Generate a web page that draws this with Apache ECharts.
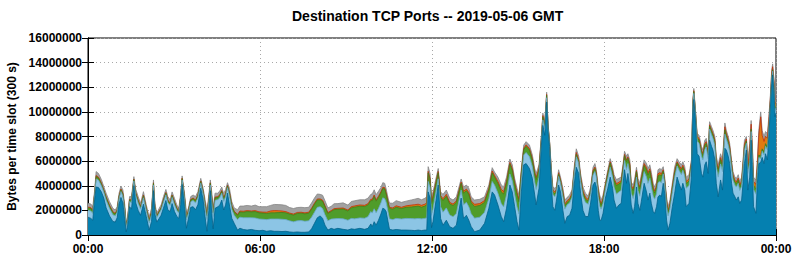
<!DOCTYPE html>
<html><head><meta charset="utf-8">
<script src="https://cdn.jsdelivr.net/npm/echarts@6/dist/echarts.min.js"></script>
<style>html,body{margin:0;padding:0;background:#fff}#c{width:795px;height:260px}</style>
</head><body><div id="c"></div>
<script>
// time of each sample, minutes after 00:00 GMT
const minutes = [
0,6,10,14,17,22,28,33,38,45, 52,57,61,65,69,73,77,80,83,87, 91,96,100,105,110,116,122,128,133,137,
140,144,149,153,158,163,167,172,176,181, 186,190,194,197,202,206,210,215,220,225, 230,236,241,245,249,253,256,259,262,266,
272,276,280,284,288,292,296,301,306,313,
318,325,333,342,350,358,366,374,382,390, 398,406,414,422,430,438,446,454,462,468,
474,480,486,491,496,502,509,515,523,534, 544,551,558,569,579,586,592,595,599,603,
608,613,617,621,624,628,631,638,645,656, 666,677,684,691,698,705,709,712,716,719,
722,733,738,743,750,757,764,771,781,786, 792,797,802,809,820,830,839,846,851,858,
865,870,876,883,888,893,898,902,907,912, 917,924,930,935,938,944,949,952,956,960,
963,966,970,973,977,980,985,989,994,998, 1003,1008,1013,1017,1022,1027,1031,1036,1041,1047,
1052,1057,1061,1064,1068,1071,1074,1078,1083,1088, 1093,1098,1101,1106,1111,1116,1120,1123,1127,1130,
1134,1137,1141,1144,1148,1151,1155,1158,1164,1169, 1172,1176,1179,1183,1186,1190,1193,1197,1200,
1204,1207,1211,1214,1218,1223,1228,1233,1237,1242, 1245,1249,1252,1258,1263,1266,1268,1271,1275,1279,
1284,1287,1291,1294,1298,1301,1305,1308,1312,1315, 1319,1324,1328,1333,1336,1340,1343,1347,1350,1354,
1357,1361,1364,1368,1371,1374,1378,1381,1385,1388, 1391,1393,1398,1401,1404,1408,1411,1415,1418,1422,
1425,1428,1431,1433,1436,1438,1440
];
// layer values in millions of bytes per 300 s slot (bottom to top)
const blueM = [
1.45,1.35,1.2,2.9,3.9,3.85,3.5,3.0,2.2,1.55, 1.1,1.05,1.4,2.5,3.05,2.6,1.2,0.25,0.8,2.3, 2.1,4.0,2.6,2.0,1.6,2.5,1.5,0.4,1.1,3.6,
1.7,1.05,1.35,1.6,2.2,2.8,2.05,1.9,2.55,1.9, 1.5,1.35,2.45,4.1,2.3,0.55,1.3,2.25,2.3,2.05, 2.45,3.8,2.84,1.5,0.3,2.0,3.6,1.76,0.5,2.17,
2.3,2.44,2.84,2.03,2.44,3.4,2.44,1.35,0.95,0.4,
0.55,0.45,0.4,0.45,0.38,0.35,0.38,0.3,0.35,0.3, 0.3,0.28,0.3,0.25,0.22,0.25,0.22,0.22,0.25,0.5,
0.95,1.4,1.55,1.35,0.8,0.4,0.54,0.46,0.54,0.46, 0.4,0.5,0.46,0.54,0.46,0.54,0.9,0.68,1.08,0.8,
1.2,1.7,2.17,2.1,1.9,1.08,0.46,0.4,0.45,0.4, 0.4,0.38,0.36,0.4,0.36,0.4,0.4,3.5,3.0,0.6,
1.08,4.06,1.35,0.8,1.2,0.68,0.54,0.8,3.0,1.35, 1.6,1.2,0.68,0.27,0.4,0.95,2.17,3.5,3.25,2.44,
1.5,1.08,2.17,4.06,3.5,2.3,1.08,0.4,3.5,5.7, 5.8,5.4,4.6,3.25,2.44,3.8,7.3,8.9,8.1,10.8,
8.4,7.2,3.9,2.3,2.0,2.7,4.06,3.5,2.0,0.95, 1.5,1.6,2.17,3.9,5.5,5.0,3.4,2.0,1.5,1.5,
2.6,4.06,4.3,3.9,2.0,1.2,1.2,1.76,3.0,3.8, 4.7,3.8,2.84,2.17,2.44,2.57,4.2,5.3,4.2,5.0,
3.9,2.44,1.76,2.3,3.9,2.57,2.0,2.7,4.2,3.5, 2.84,3.4,2.57,1.9,1.76,2.3,3.1,3.25,3.1,
4.2,3.4,1.2,0.4,0.95,2.3,3.4,4.7,4.2,3.65, 4.2,3.65,2.3,2.57,4.7,9.9,11.0,9.6,6.6,6.4,
5.0,4.7,5.7,5.95,5.0,7.7,7.2,6.9,6.1,4.2, 3.1,4.47,3.65,7.04,6.9,6.4,5.8,4.2,3.4,3.1,
2.84,3.1,2.57,2.84,4.2,5.8,6.9,3.65,4.7,7.7, 4.7,2.3,1.76,4.2,5.8,5.9,6.3,5.8,6.6,6.1,
8.0,10.15,12.3,13.0,11.5,9.6,9.9
];
const lightBlueM = [
0.55,0.6,0.55,0.35,0.65,0.6,0.5,0.48,0.62,0.6, 0.55,0.5,0.45,0.45,0.48,0.55,0.65,0.38,0.35,0.42, 0.52,0.38,0.58,0.58,0.5,0.52,0.48,0.58,0.56,0.45,
0.45,0.36,0.42,0.43,0.48,0.46,0.56,0.5,0.5,0.56, 0.49,0.42,0.49,0.36,0.57,0.67,0.45,0.45,0.5,0.56, 0.56,0.41,0.5,0.75,0.95,0.7,0.45,0.95,1.0,0.65,
0.57,0.6,0.55,0.7,0.67,0.44,0.72,0.72,0.65,0.85,
0.9,0.95,1.0,0.95,1.0,0.95,0.9,0.95,0.95,1.0, 1.0,1.0,0.95,0.9,0.85,0.9,0.95,0.9,0.9,0.95,
0.9,0.85,0.75,0.8,0.85,0.75,0.75,0.85,0.8,0.85, 0.8,0.85,0.85,0.85,0.9,0.95,1.0,1.1,1.05,1.0,
0.95,0.9,0.85,0.85,0.75,0.8,0.85,0.85,0.9,0.9, 0.95,0.95,0.95,0.95,0.95,0.95,1.0,0.85,0.85,1.0,
1.0,0.5,0.95,1.05,1.0,0.95,0.95,0.95,0.65,1.1, 1.05,1.1,1.05,1.1,1.05,0.9,0.8,0.85,0.8,0.95,
1.05,1.2,1.1,0.9,0.9,1.0,1.2,1.3,0.9,0.8, 0.9,0.95,0.95,1.05,1.25,0.9,0.35,0.45,0.5,0.35,
0.28,0.25,0.85,1.0,1.1,0.7,0.7,0.7,1.1,1.15, 0.95,1.0,0.9,0.8,0.85,0.8,0.95,1.15,1.15,1.0,
0.75,0.8,0.85,0.8,1.1,1.15,0.9,0.8,0.7,0.8, 0.8,0.9,1.05,1.15,1.05,1.05,0.8,0.75,1.1,0.8,
1.1,0.95,1.2,1.15,0.8,1.05,1.15,1.15,0.95,1.2, 1.35,1.2,1.35,1.25,1.15,1.05,1.15,1.1,1.15,
0.75,0.75,1.15,1.15,1.15,1.15,1.3,0.9,1.05,1.25, 1.05,1.15,1.5,1.45,0.85,0.6,0.5,0.45,1.0,1.05,
1.4,1.4,1.25,1.2,1.2,0.9,0.95,0.95,1.15,1.35, 1.6,1.3,1.5,1.15,0.9,0.9,0.95,1.15,1.05,0.95,
1.05,1.1,1.05,1.1,1.1,1.05,0.55,1.35,1.2,0.7, 1.1,1.4,1.55,0.8,0.5,0.3,0.5,0.7,0.6,0.8,
0.5,0.35,0.4,0.3,0.4,0.5,0.4
];
const greenM = [
0.2,0.2,0.18,0.12,0.2,0.18,0.15,0.13,0.2,0.19, 0.17,0.15,0.14,0.14,0.14,0.16,0.2,0.12,0.1,0.13, 0.16,0.12,0.18,0.18,0.15,0.16,0.15,0.17,0.17,0.14,
0.14,0.11,0.13,0.14,0.15,0.15,0.17,0.15,0.15,0.18, 0.15,0.13,0.15,0.11,0.18,0.21,0.14,0.14,0.15,0.17, 0.17,0.13,0.16,0.22,0.3,0.2,0.14,0.3,0.3,0.2,
0.18,0.19,0.17,0.22,0.21,0.14,0.24,0.25,0.28,0.35,
0.42,0.45,0.5,0.48,0.52,0.5,0.5,0.5,0.5,0.5, 0.52,0.55,0.55,0.55,0.55,0.6,0.6,0.6,0.62,0.65,
0.65,0.6,0.55,0.6,0.65,0.6,0.62,0.75,0.75,0.8, 0.75,0.85,0.95,0.95,0.95,0.95,0.9,1.0,1.0,0.95,
0.9,0.8,0.75,0.8,0.7,0.75,0.85,0.85,0.9,0.85, 0.9,0.95,1.0,1.0,0.95,1.0,1.05,0.7,0.65,0.95,
0.95,0.5,0.78,0.95,0.95,0.9,0.9,0.9,0.55,0.95, 0.95,1.0,0.9,0.95,0.95,0.8,0.7,0.7,0.65,0.8,
0.95,1.05,0.95,0.8,0.85,0.85,1.0,1.0,0.6,0.45, 0.5,0.55,0.55,0.65,0.8,0.6,0.2,0.25,0.3,0.2,
0.12,0.08,0.2,0.22,0.25,0.18,0.2,0.18,0.25,0.27, 0.22,0.23,0.2,0.2,0.2,0.2,0.22,0.28,0.28,0.25,
0.2,0.25,0.25,0.23,0.35,0.4,0.32,0.3,0.28,0.35, 0.35,0.42,0.55,0.7,0.65,0.65,0.45,0.4,0.65,0.45,
0.65,0.5,0.65,0.6,0.45,0.55,0.6,0.6,0.5,0.6, 0.68,0.6,0.65,0.55,0.5,0.5,0.55,0.55,0.55,
0.25,0.22,0.3,0.3,0.3,0.3,0.35,0.25,0.28,0.33, 0.28,0.3,0.38,0.36,0.22,0.2,0.15,0.13,0.28,0.28,
0.35,0.35,0.33,0.3,0.3,0.25,0.27,0.27,0.32,0.37, 0.45,0.36,0.42,0.35,0.27,0.27,0.27,0.3,0.28,0.26,
0.28,0.28,0.28,0.3,0.3,0.3,0.18,0.35,0.35,0.2, 0.3,0.35,0.4,0.25,0.2,0.2,0.2,0.25,0.22,0.25,
0.2,0.15,0.15,0.12,0.15,0.2,0.15
];
const orangeM = [
0.07,0.07,0.07,0.05,0.08,0.07,0.07,0.06,0.07,0.07, 0.07,0.06,0.06,0.05,0.06,0.07,0.07,0.05,0.04,0.05, 0.06,0.04,0.07,0.07,0.06,0.06,0.06,0.06,0.06,0.05,
0.05,0.04,0.05,0.05,0.05,0.05,0.06,0.05,0.05,0.06, 0.05,0.05,0.05,0.04,0.06,0.07,0.05,0.05,0.05,0.06, 0.06,0.05,0.05,0.08,0.08,0.07,0.05,0.09,0.08,0.07,
0.06,0.07,0.06,0.07,0.07,0.05,0.07,0.06,0.05,0.07,
0.08,0.08,0.08,0.07,0.08,0.08,0.08,0.1,0.15,0.18, 0.15,0.12,0.1,0.08,0.08,0.08,0.08,0.08,0.08,0.08,
0.08,0.08,0.08,0.08,0.08,0.07,0.07,0.08,0.08,0.08, 0.08,0.1,0.1,0.1,0.1,0.1,0.1,0.12,0.12,0.1,
0.1,0.1,0.1,0.1,0.08,0.08,0.08,0.1,0.12,0.1, 0.12,0.15,0.15,0.15,0.15,0.15,0.15,0.12,0.1,0.12,
0.15,0.1,0.12,0.15,0.15,0.12,0.12,0.12,0.1,0.15, 0.13,0.15,0.14,0.17,0.15,0.15,0.12,0.15,0.13,0.16,
0.2,0.2,0.15,0.13,0.15,0.15,0.17,0.2,0.12,0.1, 0.12,0.12,0.12,0.15,0.18,0.12,0.07,0.1,0.1,0.07,
0.05,0.04,0.1,0.12,0.15,0.1,0.1,0.1,0.15,0.15, 0.12,0.13,0.12,0.13,0.15,0.13,0.15,0.15,0.15,0.13,
0.1,0.12,0.12,0.11,0.15,0.15,0.12,0.12,0.1,0.1, 0.1,0.12,0.14,0.15,0.14,0.13,0.1,0.1,0.13,0.1,
0.13,0.13,0.15,0.15,0.1,0.13,0.15,0.15,0.15,0.18, 0.18,0.18,0.18,0.18,0.17,0.15,0.17,0.17,0.17,
0.1,0.1,0.15,0.15,0.14,0.15,0.17,0.1,0.14,0.15, 0.14,0.15,0.17,0.17,0.1,0.1,0.07,0.06,0.12,0.12,
0.15,0.15,0.14,0.13,0.13,0.1,0.12,0.12,0.15,0.16, 0.2,0.16,0.2,0.25,0.18,0.18,0.18,0.17,0.15,0.14,
0.15,0.15,0.15,0.16,0.2,0.25,0.17,0.25,0.8,0.4, 0.45,0.3,0.4,0.5,1.6,3.2,1.1,0.85,0.6,0.7,
0.55,0.3,0.3,0.25,0.3,0.4,0.3
];
const grayM = [
0.3,0.3,0.3,0.24,0.32,0.3,0.28,0.26,0.3,0.3, 0.28,0.27,0.25,0.25,0.25,0.28,0.32,0.2,0.2,0.22, 0.28,0.2,0.28,0.29,0.26,0.28,0.25,0.28,0.28,0.23,
0.23,0.2,0.22,0.22,0.24,0.24,0.28,0.25,0.25,0.28, 0.25,0.22,0.25,0.19,0.28,0.32,0.23,0.23,0.25,0.28, 0.28,0.21,0.25,0.35,0.4,0.33,0.23,0.4,0.4,0.31,
0.28,0.3,0.28,0.33,0.31,0.22,0.33,0.32,0.27,0.38,
0.4,0.42,0.42,0.4,0.45,0.42,0.44,0.45,0.45,0.5, 0.5,0.5,0.5,0.45,0.45,0.4,0.4,0.42,0.4,0.42,
0.42,0.4,0.37,0.4,0.4,0.38,0.35,0.4,0.38,0.42, 0.4,0.42,0.42,0.42,0.45,0.45,0.4,0.45,0.42,0.42,
0.4,0.35,0.38,0.35,0.32,0.3,0.35,0.38,0.42,0.4, 0.38,0.42,0.45,0.48,0.45,0.48,0.5,0.38,0.4,0.43,
0.32,0.24,0.3,0.35,0.35,0.35,0.33,0.33,0.25,0.35, 0.33,0.35,0.33,0.35,0.35,0.3,0.27,0.27,0.27,0.35,
0.36,0.37,0.33,0.28,0.3,0.3,0.35,0.35,0.28,0.25, 0.26,0.28,0.28,0.3,0.33,0.28,0.18,0.2,0.2,0.18,
0.15,0.13,0.25,0.26,0.3,0.22,0.24,0.22,0.3,0.32, 0.27,0.29,0.26,0.27,0.3,0.27,0.28,0.32,0.32,0.29,
0.25,0.27,0.28,0.26,0.3,0.35,0.3,0.27,0.22,0.25, 0.25,0.26,0.32,0.33,0.32,0.3,0.25,0.25,0.32,0.25,
0.32,0.28,0.3,0.3,0.25,0.3,0.3,0.3,0.3,0.32, 0.35,0.32,0.35,0.32,0.32,0.3,0.33,0.33,0.33,
0.25,0.23,0.3,0.3,0.3,0.3,0.33,0.25,0.28,0.32, 0.28,0.3,0.35,0.35,0.23,0.2,0.18,0.16,0.25,0.25,
0.3,0.3,0.28,0.27,0.27,0.25,0.26,0.26,0.28,0.32, 0.35,0.31,0.33,0.31,0.25,0.25,0.25,0.28,0.26,0.25,
0.28,0.27,0.28,0.3,0.3,0.3,0.2,0.35,0.4,0.3, 0.35,0.35,0.36,0.35,0.4,0.4,0.4,0.4,0.38,0.4,
0.35,0.25,0.25,0.23,0.25,0.3,0.25
];
const xTickLabels = ['00:00','06:00','12:00','18:00','00:00'];
const titleText = 'Destination TCP Ports -- 2019-05-06 GMT';
const yName = 'Bytes per time slot (300 s)';

const FONT = '"Liberation Sans", Arial, Helvetica, sans-serif';
const chart = echarts.init(document.getElementById('c'), null, {renderer: 'svg'});
const layers = [
  {name: 'blue', vals: blueM, fill: '#0580b0', edge: '#04628a'},
  {name: 'lightblue', vals: lightBlueM, fill: '#8cc5e5', edge: '#6aa9cc'},
  {name: 'green', vals: greenM, fill: '#4f9c2a', edge: '#3d7d1e'},
  {name: 'orange', vals: orangeM, fill: '#e07a10', edge: '#c0300a'},
  {name: 'gray', vals: grayM, fill: '#a2a2a2', edge: '#858585'}
];
// stack the layers (running sums) so each band sits on the one below it
const running = minutes.map(() => 0);
layers.forEach(L => {
  L.pts = minutes.map((m, i) => { running[i] += L.vals[i]; return [m, Math.round(running[i] * 1e6)]; });
});
const lab = {fontFamily: FONT, fontWeight: 'bold', fontSize: 12, color: '#000'};
const tick = {show: true, inside: true, length: 6, lineStyle: {color: '#000', width: 1}};
const line = {show: true, lineStyle: {color: '#000', width: 1}};
const grid = {show: true, lineStyle: {color: '#a8a8a8', width: 1, type: [1, 3]}};
chart.setOption({
  animation: false,
  backgroundColor: '#fff',
  title: {text: titleText, left: 287, top: 4,
          textStyle: {fontFamily: FONT, fontWeight: 'bold', fontSize: 14, color: '#000'}},
  grid: {left: 88, right: 19, top: 38, bottom: 25, containLabel: false, outerBoundsMode: 'none',
         show: true, borderColor: '#000', borderWidth: 1, backgroundColor: 'transparent'},
  xAxis: [
    {type: 'value', min: 0, max: 1440, interval: 360, position: 'bottom',
     axisLine: line, axisTick: tick, splitLine: grid,
     axisLabel: Object.assign({margin: 8, formatter: v => xTickLabels[Math.round(v / 360)]}, lab)},
    {type: 'value', min: 0, max: 1440, interval: 360, position: 'top',
     axisLine: line, axisTick: tick, splitLine: {show: false}, axisLabel: {show: false}}
  ],
  yAxis: [
    {type: 'value', min: 0, max: 16000000, interval: 2000000, position: 'left',
     name: yName, nameLocation: 'middle', nameGap: 70, nameRotate: 90,
     nameTextStyle: {fontFamily: FONT, fontWeight: 'bold', fontSize: 12, color: '#000'},
     axisLine: line, axisTick: tick, splitLine: grid,
     axisLabel: Object.assign({margin: 6, formatter: v => String(v)}, lab)},
    {type: 'value', min: 0, max: 16000000, interval: 2000000, position: 'right',
     axisLine: line, axisTick: tick, splitLine: {show: false}, axisLabel: {show: false}}
  ],
  // top band first, so each lower band is painted over the one above it
  series: layers.slice().reverse().map(L => ({
    name: L.name, type: 'line', data: L.pts,
    symbol: 'none', showSymbol: false, silent: true, smooth: false,
    lineStyle: {width: 0.8, color: L.edge},
    areaStyle: {color: L.fill, opacity: 1, origin: 'start'},
    emphasis: {disabled: true}
  }))
});
</script>
</body></html>
